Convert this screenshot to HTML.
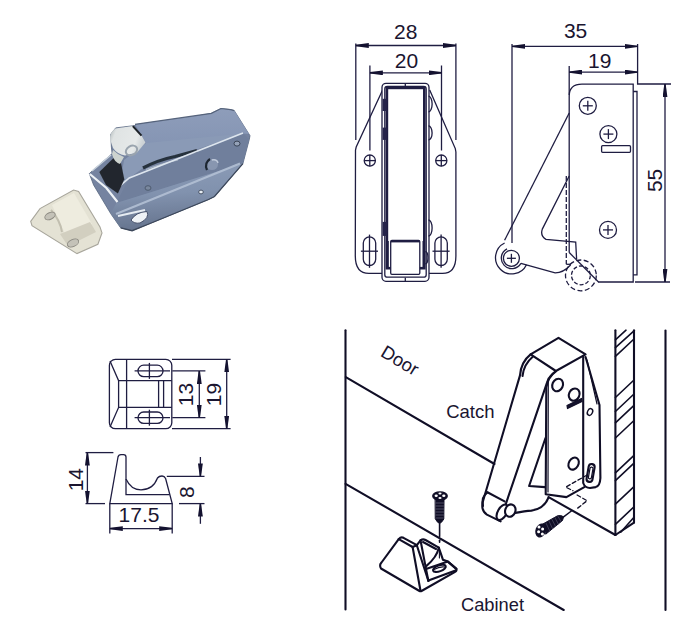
<!DOCTYPE html>
<html><head><meta charset="utf-8">
<style>
html,body{margin:0;padding:0;background:#fff;width:700px;height:630px;overflow:hidden}
svg{display:block;position:absolute;left:0;top:0}
text{font-family:"Liberation Sans",sans-serif;fill:#1a1530}
</style></head><body>
<svg width="700" height="630" viewBox="0 0 700 630">
<defs>
<marker id="ar" viewBox="0 0 13 5" refX="13" refY="2.5" markerWidth="13" markerHeight="5" markerUnits="userSpaceOnUse" orient="auto-start-reverse"><path d="M0 0.1 L13 1.8 L13 3.2 L0 4.9 Z" fill="#141230"/></marker>
</defs>

<!-- ============ PHOTO ============ -->
<g id="photo">
  <defs>
    <linearGradient id="gTop" x1="0" y1="0" x2="0" y2="1">
      <stop offset="0" stop-color="#8e9dba"/><stop offset="1" stop-color="#8393b2"/>
    </linearGradient>
    <linearGradient id="gBase" x1="0" y1="0" x2="0.15" y2="1">
      <stop offset="0" stop-color="#8d9db8"/><stop offset="0.5" stop-color="#8192ae"/><stop offset="1" stop-color="#66748e"/>
    </linearGradient>
    <linearGradient id="gRoll" x1="0" y1="0" x2="1" y2="0.3">
      <stop offset="0" stop-color="#aab2b4"/><stop offset="0.2" stop-color="#dfe3e3"/><stop offset="0.8" stop-color="#e6e9e9"/><stop offset="1" stop-color="#cdd3d6"/>
    </linearGradient>
    <filter id="blur1" x="-10%" y="-10%" width="120%" height="120%"><feGaussianBlur stdDeviation="0.6"/></filter>
  </defs>
  <g filter="url(#blur1)">
  <!-- silhouette -->
  <path d="M110.7 134.3 L115.7 127.9 L133.6 125.7 L175 120 L211.3 113.4 L221 108.5 L230.7 109.7 L234.3 110.7 L250 135.7 L249.3 139.3 L242.9 163.6 L214.5 196.5 L208.5 199.5 L150 223.5 L132.1 230.7 L120.7 227.9 L110.7 213.6 L93.6 185 L89.3 173.6 L112.1 153.6 L111.4 147.1 Z" fill="#7483a0" stroke="#56647e" stroke-width="0.8"/>
  <!-- top face -->
  <path d="M135 124.3 L211.3 113.4 L221 108.5 L230.7 109.7 L234.3 110.7 L249 134 L243 133.5 L150 153 L146 143 Z" fill="url(#gTop)"/>
  <path d="M135 124.3 L211.3 113.4 L221 108.5 L230.7 109.7 L234.3 110.7" stroke="#56647c" stroke-width="1.2" fill="none"/>
  <!-- lever side under roller -->
  <path d="M146 143 L243 133.5 L175 157 L146.4 165.7 L129.3 177.9 L119.3 186.4 L122 172 L124 160 Z" fill="#8a9ab6"/>
  <!-- side plate -->
  <path d="M129.3 177.9 L243 133.5 L249.3 139.3 L242.9 163.6 L116.4 203" fill="#6f7f9c"/>
  <!-- base plate -->
  <path d="M116.4 203 L242.9 163.6 L214.5 196.5 L208.5 199.5 L150 223.5 L132.1 230.7 L120.7 227.9 L110.7 213.6 Z" fill="url(#gBase)"/>
  <path d="M116 214 L240 163.5" stroke="#b3c0d4" stroke-width="2.2" fill="none" opacity="0.9"/>
  <path d="M150 223.5 L208.5 199.5 L214.5 196.5 L242.9 163.6" stroke="#3c475a" stroke-width="1.3" fill="none"/>
  <path d="M120.7 227.9 L132.1 230.7 L150 223.5" stroke="#3c475a" stroke-width="1.3" fill="none"/>
  <!-- dark groove -->
  <path d="M143 168 Q158 160 175 156.5 L197 150.5" stroke="#28313d" stroke-width="3.2" fill="none"/>
  <path d="M146 169.5 Q160 164 178 160" stroke="#aab6c6" stroke-width="1.2" fill="none"/>
  <!-- highlight line -->
  <path d="M119.3 186.4 L129.3 177.9 L243 133" stroke="#dde5ee" stroke-width="1.6" fill="none"/>
  <!-- black rubber -->
  <path d="M99.3 172.1 L113.6 157.9 L121 163 L124.3 179.3 L117.9 193.6 L106 185 Z" fill="#24282e"/>
  <!-- channel bright edges -->
  <path d="M89.8 174 L106.4 188 L117.5 202" stroke="#eef2f6" stroke-width="2.2" fill="none"/>
  <path d="M92 171 L111 155" stroke="#c9d2dc" stroke-width="1.5" fill="none"/>
  <!-- roller -->
  <path d="M115.3 128.5 Q109 133 110.3 140 L113 148 Q117 154 125 155.5 L137 152.5 L145.5 142.5 L141.5 135.6 L132.8 126.1 Z" fill="url(#gRoll)"/>
  <path d="M132.8 126.1 L141.5 135.6" stroke="#1e2228" stroke-width="2" fill="none"/>
  <ellipse cx="131.5" cy="150.5" rx="6" ry="4.5" fill="none" stroke="#9aa4ae" stroke-width="2" transform="rotate(-30 131.5 150.5)"/>
  <path d="M112 154 Q114 162 120 164 L124 157 Q118 155 113 150 Z" fill="#cdd3cf"/>
  <!-- rivets -->
  <ellipse cx="212" cy="164.5" rx="6" ry="5.5" fill="#8896b0"/>
  <path d="M207 170 Q204 163 210 159" stroke="#1e2530" stroke-width="2.2" fill="none"/>
  <path d="M212 160 Q217 159 218 163" stroke="#c0cadb" stroke-width="1.4" fill="none"/>
  <ellipse cx="237" cy="143.6" rx="3" ry="2.5" fill="#95a2b8" stroke="#3c4658" stroke-width="1"/>
  <ellipse cx="148" cy="188" rx="3" ry="2.3" fill="#7a889e" stroke="#4a566a" stroke-width="0.9"/>
  <ellipse cx="201" cy="192" rx="2.3" ry="1.9" fill="#e8eef4" stroke="#3c4658" stroke-width="0.9"/>
  <path d="M131 220 Q136 212 147 211.5 Q150 218 140 223 Q134 224 131 220 Z" fill="#eef2f6" stroke="#46506a" stroke-width="1"/>
  <path d="M118 216 L145 210" stroke="#e6ecf2" stroke-width="2" fill="none"/>
  </g>
  <!-- white catch -->
  <g filter="url(#blur1)">
  <path d="M30.7 221.4 L40 208.6 L73.6 190 L78.6 191.4 L100 227 L102 232.9 L97.9 244.3 L77 253.6 L32 225.7 Z" fill="#e4e2d4" stroke="#a8a69c" stroke-width="1.1"/>
  <path d="M52 205 L74 193 L92 224 L66 236 Z" fill="#eeecdf"/>
  <path d="M60 234 L90 222 L96 232 L68 246 Z" fill="#d2cfc0"/>
  <path d="M51 210 Q60 220 62 232" stroke="#c2bfb0" stroke-width="2" fill="none"/>
  <ellipse cx="50" cy="216" rx="5.5" ry="3.3" fill="#c4c2b8" stroke="#8a8880" stroke-width="0.9" transform="rotate(-25 50 216)"/>
  <ellipse cx="73" cy="243" rx="6" ry="3.5" fill="#c4c2b8" stroke="#8a8880" stroke-width="0.9" transform="rotate(-25 73 243)"/>
  </g>
</g>

<!-- ============ TOP CENTER DRAWING ============ -->
<g id="tc" fill="none" stroke="#1f1d42" stroke-width="1.3">
  <!-- dim 28 -->
  <line x1="355.8" y1="43.5" x2="355.8" y2="140"/>
  <line x1="455.9" y1="43.5" x2="455.9" y2="140"/>
  <line x1="355.8" y1="45.5" x2="455.9" y2="45.5" marker-start="url(#ar)" marker-end="url(#ar)"/>
  <!-- dim 20 -->
  <line x1="369.9" y1="65.5" x2="369.9" y2="150.5"/>
  <line x1="441.5" y1="65.5" x2="441.5" y2="150.5"/>
  <line x1="369.9" y1="72.8" x2="441.5" y2="72.8" marker-start="url(#ar)" marker-end="url(#ar)"/>
  <!-- plate -->
  <path d="M382.6 90 L356.2 147 L355.5 150 L355.3 256 Q355.3 273.4 369 273.4 L382.4 273.4"/>
  <path d="M429.7 90 L455.3 148.6 L455.9 152 L455.9 256 Q455.9 273.4 442.5 273.4 L428.5 273.4"/>
  <!-- circles -->
  <circle cx="369.8" cy="160.6" r="5.6"/><line x1="364.2" y1="160.6" x2="375.4" y2="160.6"/><line x1="369.8" y1="155" x2="369.8" y2="166.2"/>
  <circle cx="441.3" cy="160.6" r="5.6"/><line x1="435.7" y1="160.6" x2="446.9" y2="160.6"/><line x1="441.3" y1="155" x2="441.3" y2="166.2"/>
  <!-- slots -->
  <rect x="363.3" y="236.9" width="12.4" height="28.6" rx="6.2" ry="6.2"/><line x1="360.9" y1="251.2" x2="378" y2="251.2"/><line x1="369.5" y1="234.6" x2="369.5" y2="267.8"/>
  <rect x="434.9" y="236.9" width="12.4" height="28.6" rx="6.2" ry="6.2"/><line x1="432.5" y1="251.2" x2="449.6" y2="251.2"/><line x1="441.1" y1="234.6" x2="441.1" y2="267.8"/>
  <!-- body -->
  <rect x="382" y="83.3" width="47" height="198" rx="4" fill="#fff"/>
  <rect x="384.8" y="86.4" width="41.4" height="190.8" rx="2.5"/>
  <rect x="386.9" y="87.9" width="37.4" height="180.3" stroke-width="2.6"/>
  <path d="M388.3 241 L388.3 268 L390.7 268 M423 241 L423 268 L419.8 268" stroke-width="1"/>
  <rect x="390.7" y="240.5" width="29.1" height="33.8" rx="1.2" fill="#fff"/>
  <line x1="390.7" y1="241.6" x2="419.8" y2="241.6" stroke-width="1.6"/>
  <line x1="405.3" y1="83.6" x2="405.3" y2="86.6"/>
  <line x1="405.3" y1="277.8" x2="405.3" y2="281.3"/>
  <rect x="382.6" y="98.8" width="4.3" height="12.2" fill="#25234a" stroke="none"/>
  <rect x="382.6" y="127.6" width="4.3" height="12.3" fill="#25234a" stroke="none"/>
  <rect x="382.6" y="221.9" width="4.3" height="14" fill="#25234a" stroke="none"/>
  <path d="M428.5 96.2 A3.6 7.8 0 0 1 428.5 111.9"/>
  <path d="M428.5 125.9 A3.6 7 0 0 1 428.5 139.9"/>
  <path d="M428.5 220 A3.6 8 0 0 1 428.5 236"/>
  <path d="M425.3 251.6 A2.6 6.1 0 0 1 425.3 263.8"/>
</g>
<g fill="#1a1530" font-size="21" text-anchor="middle" font-family="Liberation Sans">
  <text x="405.7" y="39.3">28</text>
  <text x="406.5" y="67.6">20</text>
</g>

<!-- ============ TOP RIGHT DRAWING ============ -->
<g id="tr" fill="none" stroke="#1f1d42" stroke-width="1.3">
  <line x1="512" y1="44" x2="512" y2="243"/>
  <path d="M637.6 44 L637.6 84 L671 84"/>
  <line x1="512" y1="46.4" x2="637.6" y2="46.4" marker-start="url(#ar)" marker-end="url(#ar)"/>
  <line x1="569.2" y1="66" x2="569.2" y2="95"/>
  <line x1="569.2" y1="72.1" x2="637.6" y2="72.1" marker-start="url(#ar)" marker-end="url(#ar)"/>
  <line x1="635" y1="282" x2="670" y2="282"/>
  <line x1="665" y1="84" x2="665" y2="282" marker-start="url(#ar)" marker-end="url(#ar)"/>
  <!-- body -->
  <path d="M569.2 252.3 L569.2 96 Q569.2 84.1 582 84.1 L633.2 84.1 L633.2 282 L598 282"/>
  <path d="M633.2 91.5 L637 91.5 L637 274.8 L633.2 274.8"/>
  <circle cx="587.8" cy="105.8" r="8.5"/><line x1="582.8" y1="105.8" x2="592.8" y2="105.8"/><line x1="587.8" y1="100.8" x2="587.8" y2="110.8"/>
  <circle cx="608.4" cy="134.1" r="8.5"/><line x1="603.4" y1="134.1" x2="613.4" y2="134.1"/><line x1="608.4" y1="129.1" x2="608.4" y2="139.1"/>
  <circle cx="608" cy="229.9" r="8.5"/><line x1="603" y1="229.9" x2="613" y2="229.9"/><line x1="608" y1="224.9" x2="608" y2="234.9"/>
  <rect x="601.6" y="145.7" width="28.9" height="6.6" rx="1"/>
  <!-- lever -->
  <path d="M569.2 113 L504.6 240.3"/>
  <path d="M569.2 176 L542.3 229.1 Q540 236 546 239.4 L575.7 242 L576.6 259"/>
  <line x1="566.3" y1="176" x2="566.3" y2="264.3" stroke-dasharray="5 2"/>
  <line x1="566.3" y1="264.3" x2="571" y2="264.3"/>
  <path d="M569 252.3 L598.5 282"/>
  <circle cx="511.4" cy="258.3" r="8"/><line x1="506.9" y1="258.3" x2="515.9" y2="258.3"/><line x1="511.4" y1="253.8" x2="511.4" y2="262.8"/>
  <path d="M520.9 263.4 A10.5 10.5 0 1 1 507 248.8"/>
  <path d="M526.5 264.7 A16.3 16.3 0 1 1 504.6 243"/>
  <path d="M520.9 263.4 L555.1 272.9 Q563 273 570.6 265"/>
  <circle cx="580.9" cy="275.4" r="15.4" stroke-dasharray="5 2.5"/>
  <circle cx="580.9" cy="275.4" r="9.4" stroke-dasharray="4 2"/>
</g>
<g fill="#1a1530" font-size="21" text-anchor="middle" font-family="Liberation Sans">
  <text x="575.6" y="37.8">35</text>
  <text x="599.8" y="68.2">19</text>
  <text x="0" y="0" transform="translate(661.9 180.4) rotate(-90)">55</text>
</g>

<!-- ============ BOTTOM LEFT DRAWINGS ============ -->
<g id="bl" fill="none" stroke="#1f1d42" stroke-width="1.3">
  <rect x="109.4" y="359.4" width="62.4" height="69.3" rx="6"/>
  <line x1="126.6" y1="359.4" x2="126.6" y2="428.7"/>
  <path d="M110 361 L118.6 380.7 L118.6 407.4 L110 427"/>
  <line x1="118.6" y1="380.7" x2="171.8" y2="380.7"/>
  <line x1="118.6" y1="407.4" x2="171.8" y2="407.4"/>
  <line x1="158.6" y1="380.7" x2="158.6" y2="407.4"/>
  <line x1="163.6" y1="380.7" x2="163.6" y2="407.4"/>
  <rect x="138" y="365.2" width="25" height="11.4" rx="5.7"/>
  <line x1="134.6" y1="370.9" x2="170" y2="370.9"/><line x1="149.4" y1="362.9" x2="149.4" y2="378.9"/>
  <rect x="138" y="412" width="25" height="11.4" rx="5.7"/>
  <line x1="134.6" y1="417.7" x2="170" y2="417.7"/><line x1="149.4" y1="409.7" x2="149.4" y2="425.7"/>
  <!-- dims -->
  <line x1="172.3" y1="370.9" x2="205.4" y2="370.9"/>
  <line x1="172.3" y1="417.7" x2="205.4" y2="417.7"/>
  <line x1="199.3" y1="370.9" x2="199.3" y2="417.7" marker-start="url(#ar)" marker-end="url(#ar)"/>
  <line x1="172" y1="359.4" x2="230.6" y2="359.4"/>
  <line x1="172" y1="428.7" x2="230.6" y2="428.7"/>
  <line x1="226.7" y1="359.4" x2="226.7" y2="428.7" marker-start="url(#ar)" marker-end="url(#ar)"/>
  <!-- profile -->
  <path d="M109.8 503.6 L118 457 Q118.5 454.6 121 454.6 L123.5 454.6 Q126 454.6 126 457 L126 478.9 Q131 489.8 141 489.8 Q153 489.8 157.5 478 Q159 476 162 476 Q164.5 476 165.6 478.5 L172.2 503.6 Z"/>
  <path d="M126 478.9 L126 494.6 L169.5 494.6"/>
  <line x1="85.5" y1="452.6" x2="113.4" y2="452.6"/>
  <line x1="85.5" y1="503.6" x2="105" y2="503.6"/>
  <line x1="87.4" y1="452.6" x2="87.4" y2="503.6" marker-start="url(#ar)" marker-end="url(#ar)"/>
  <line x1="166.8" y1="476.4" x2="204.5" y2="476.4"/>
  <line x1="179" y1="503.6" x2="204.5" y2="503.6"/>
  <line x1="200.4" y1="457" x2="200.4" y2="476.4" marker-end="url(#ar)"/>
  <line x1="200.4" y1="523.8" x2="200.4" y2="503.6" marker-end="url(#ar)"/>
  <line x1="109.8" y1="503.6" x2="109.8" y2="533.5"/>
  <line x1="172.2" y1="503.6" x2="172.2" y2="533.5"/>
  <line x1="109.8" y1="528.6" x2="172.2" y2="528.6" marker-start="url(#ar)" marker-end="url(#ar)"/>
</g>
<g fill="#1a1530" font-size="21" text-anchor="middle" font-family="Liberation Sans">
  <text x="0" y="0" transform="translate(193 394.5) rotate(-90)">13</text>
  <text x="0" y="0" transform="translate(221.1 394.5) rotate(-90)">19</text>
  <text x="0" y="0" transform="translate(82.5 479.7) rotate(-90)">14</text>
  <text x="0" y="0" transform="translate(194.3 492.2) rotate(-90)">8</text>
  <text x="139" y="521.8">17.5</text>
</g>

<!-- ============ INSTALL DIAGRAM ============ -->
<g id="inst" fill="none" stroke="#100e26" stroke-width="2.1" stroke-linejoin="round" stroke-linecap="round">
  <line x1="345.5" y1="330.3" x2="345.5" y2="609.5"/>
  <line x1="665.5" y1="330.5" x2="665.5" y2="610"/>
  <line x1="345.8" y1="377.1" x2="494.5" y2="464"/>
  <line x1="548.6" y1="497.1" x2="615.4" y2="535"/>
  <line x1="345.6" y1="483.8" x2="563.7" y2="610"/>
  <!-- wall section -->
  <line x1="615.4" y1="330.2" x2="615.4" y2="535"/>
  <line x1="634" y1="330.2" x2="634" y2="522.6"/>
  <line x1="615.4" y1="535" x2="634" y2="522.6"/>
  <g stroke-width="1.6">
  <line x1="615.4" y1="339.8" x2="626" y2="330.2"/>
  <line x1="615.4" y1="347.7" x2="634" y2="330.8"/>
  <line x1="615.4" y1="356.4" x2="634" y2="339"/>
  <line x1="615.4" y1="397.5" x2="634" y2="380"/>
  <line x1="615.4" y1="411.5" x2="634" y2="394"/>
  <line x1="615.4" y1="422.8" x2="634" y2="405.3"/>
  <line x1="615.4" y1="438" x2="634" y2="420.5"/>
  <line x1="615.4" y1="472.8" x2="634" y2="455.3"/>
  <line x1="615.4" y1="480.7" x2="634" y2="463.2"/>
  <line x1="615.4" y1="504.2" x2="634" y2="486.7"/>
  <line x1="615.4" y1="524.3" x2="634" y2="506.8"/>
  <line x1="620.7" y1="532.2" x2="634" y2="517.3"/>
  </g>
  <!-- catch lever -->
  <path d="M530.6 354.4 L558.5 337.9 L585.6 354.4 L555.9 371 Z" fill="#fff"/>
  <path d="M530.6 354.4 Q521 362 520 375.4 L483.4 499.7 Q480 510 486.9 514.6 L500.6 521.4"/>
  <path d="M532.5 357 Q524 364 522.5 376"/>
  <path d="M555.9 371 Q549 376 547.1 382.4 L505.7 504.3"/>
  <path d="M487.4 492.3 L504.6 501.4"/>
  <path d="M487.4 492.3 Q481 497 483 506"/>
  <ellipse cx="502.3" cy="512.3" rx="4.5" ry="8.6" transform="rotate(30 502.3 512.3)"/>
  <ellipse cx="510.3" cy="510.6" rx="5.1" ry="6.3" fill="#fff" transform="rotate(20 510.3 510.6)"/>
  <path d="M515.4 512.9 Q525 511 531.4 510.6 Q544 509 548.6 497.4"/>
  <path d="M545.5 438 L529.1 486 L545 487.1"/>
  <!-- plate -->
  <path d="M555.9 371.5 Q548 377 546.3 387.6 L545.7 494.3 L566.4 497.1 L584.3 487.1"/>
  <path d="M548.3 378 L548 492" stroke-width="1.2"/>
  <path d="M583.2 356 L583.2 483 Q585 488 590 488 L595.7 487.1 Q600 486 600.4 478 L599.5 405 L585.6 357"/>
  <path d="M587 360 L597 404" stroke-width="1.2"/>
  <ellipse cx="557.6" cy="385" rx="5.2" ry="6.5" transform="rotate(25 557.6 385)"/>
  <ellipse cx="574.2" cy="394.6" rx="5.2" ry="6.3" transform="rotate(25 574.2 394.6)"/>
  <path d="M567 405.5 L581.5 398.5 L582 401.5 L567.5 408.5 Z" fill="#15132e" stroke-width="1.2"/>
  <ellipse cx="590" cy="412" rx="2.5" ry="3.5" transform="rotate(25 590 412)" stroke-width="1.4"/>
  <ellipse cx="573.6" cy="463.6" rx="4.8" ry="6.4" transform="rotate(30 573.6 463.6)"/>
  <rect x="587.6" y="464" width="6" height="18" rx="3" transform="rotate(10 590.7 473)"/>
  <rect x="589.2" y="467" width="3" height="12" rx="1.5" transform="rotate(10 590.7 473)" stroke-width="1.2"/>
  <!-- dashed hidden lines -->
  <path d="M587.1 475 L565.7 487.1 L572.9 490.7" stroke-dasharray="4 2.5" stroke-width="1.3"/>
  <path d="M577.1 495 L587.1 500.7 L577.1 508.6" stroke-dasharray="4 2.5" stroke-width="1.3"/>
  
  <!-- screw right -->
  <path d="M542 524.5 L557.5 515.8 Q561 514.8 563.6 516.8 L562.5 520.5 L546 534 Z" fill="#100e26" stroke-width="1"/>
  <path d="M546 523 L549.5 530.5 M549 521.2 L552.5 528.5 M552 519.5 L555.5 526.3 M555 517.8 L558.3 524 M558 516.5 L561 521.5" stroke="#5c5a74" stroke-width="0.6"/>
  <ellipse cx="540.7" cy="530.4" rx="4.6" ry="6.6" fill="#100e26" stroke-width="1.2" transform="rotate(20 540.7 530.4)"/>
  <circle cx="539" cy="527" r="1.5" fill="#fff" stroke="none"/>
  <circle cx="538.6" cy="531.8" r="1.5" fill="#fff" stroke="none"/>
  <circle cx="542.4" cy="534" r="1.5" fill="#fff" stroke="none"/>
  <circle cx="542.6" cy="529" r="1.5" fill="#fff" stroke="none"/>
  <line x1="563.6" y1="516.8" x2="571.4" y2="511" stroke-width="1.5"/>
  <!-- screw cabinet -->
  <path d="M435.5 499 L444 499 L443.8 519 Q442 522.5 439.6 523.5 Q437 522.5 435.4 519 Z" fill="#100e26" stroke-width="1"/>
  <path d="M436 503 L443.5 503 M436 506 L443.5 506 M436 509 L443.5 509 M436 512 L443.5 512 M436 515 L443.5 515 M436.5 518 L443 518" stroke="#6a6880" stroke-width="0.7"/>
  <ellipse cx="440" cy="496" rx="7.3" ry="4.1" fill="#100e26" stroke-width="1.2"/>
  <ellipse cx="436.2" cy="495.8" rx="1.6" ry="1.2" fill="#fff" stroke="none"/>
  <ellipse cx="443.8" cy="495.8" rx="1.6" ry="1.2" fill="#fff" stroke="none"/>
  <ellipse cx="440" cy="493.6" rx="1.6" ry="1" fill="#fff" stroke="none"/>
  <ellipse cx="440" cy="498" rx="1.6" ry="1" fill="#fff" stroke="none"/>
  <line x1="439.6" y1="523" x2="439.6" y2="536.5" stroke-width="1.6"/>
  <line x1="439.6" y1="540.3" x2="439.6" y2="542.2" stroke-width="1.6"/>
  <!-- cabinet catch piece -->
  <path d="M381 568.5 Q379 565 381.5 562.5 L398.7 539.1 Q401 536.5 403.5 537.8 L416.9 545.2 L420.5 540.3 Q423 538.5 425.5 540 L438.8 547.6 L443 559.8 L447.9 561.6 L456.4 568.9 Q457 571 455.1 571.9 L421.5 591 Q420.5 591.6 419.5 591 Z" fill="#fff"/>
  <path d="M398.7 539.1 L412.6 547 L416.9 545.2"/>
  <path d="M412.6 547 L420.5 590.7"/>
  <path d="M416.9 545.5 L428.4 581"/>
  <path d="M420.5 540.3 L426 568.9"/>
  <path d="M423 542 L436 549"/>
  <path d="M438.8 547.6 Q437 557 426 566.4"/>
  <path d="M426 568.9 L447.9 561.6 L456.4 568.9"/>
  <path d="M428.4 580.5 L455.5 570.5"/>
  <path d="M426 568.9 L428.4 581"/>
  <ellipse cx="439.4" cy="568.3" rx="6.7" ry="3" transform="rotate(-20 439.4 568.3)"/>
  <path d="M434 569.5 Q440 566 445 567" stroke-width="1.2"/>
  <line x1="439.4" y1="548" x2="439.4" y2="558" stroke-width="1.1"/>
</g>
<g fill="#111" font-family="Liberation Sans" font-size="18">
  <text x="0" y="0" font-size="18.5" transform="translate(379.6 355.5) rotate(31)">Door</text>
  <text x="446.2" y="418.1" font-size="18.5">Catch</text>
  <text x="461" y="610.8" font-size="18.3">Cabinet</text>
</g>
</svg>
</body></html>
